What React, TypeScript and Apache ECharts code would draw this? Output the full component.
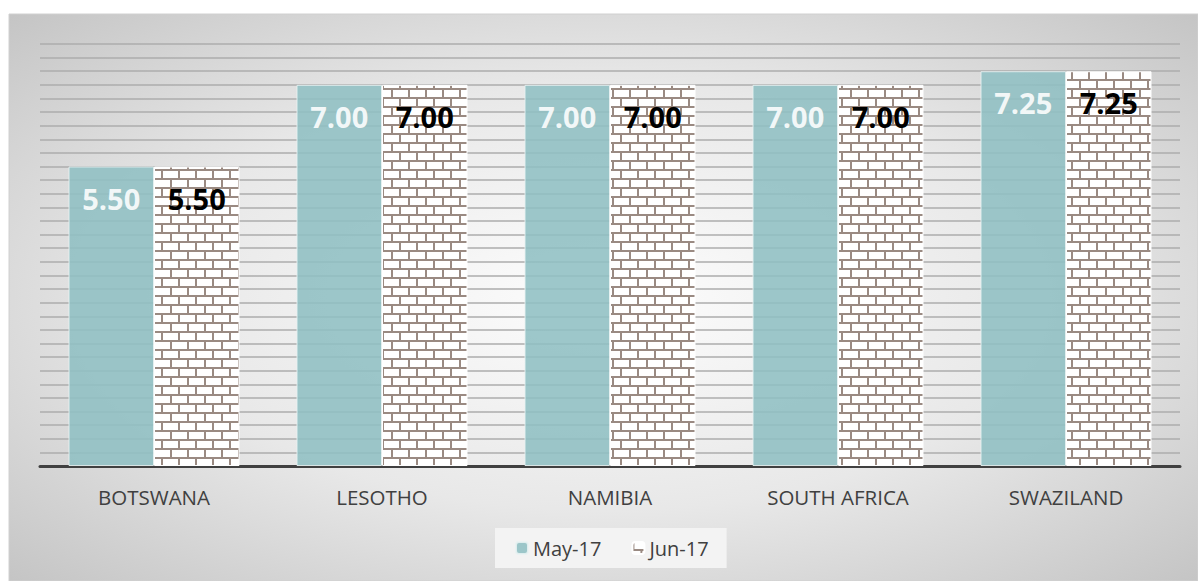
import React, { useEffect, useRef } from "react";
import * as echarts from "echarts";

const countries = ["BOTSWANA", "LESOTHO", "NAMIBIA", "SOUTH AFRICA", "SWAZILAND"];
const may17 = [5.5, 7.0, 7.0, 7.0, 7.25];
const jun17 = [5.5, 7.0, 7.0, 7.0, 7.25];
const seriesNames = ["May-17", "Jun-17"];

function makeBrick(): HTMLCanvasElement {
  const w = 17;
  const h = 18;
  const c = document.createElement("canvas");
  c.width = w;
  c.height = h;
  const ctx = c.getContext("2d")!;
  ctx.fillStyle = "#ffffff";
  ctx.fillRect(0, 0, w, h);
  ctx.fillStyle = "#9a8a82";
  // horizontal mortar
  ctx.fillRect(0, 7, w, 2);
  ctx.fillRect(0, 16, w, 2);
  // vertical joints, offset every other row
  ctx.fillRect(0, 0, 2, 7);
  ctx.fillRect(8, 9, 2, 7);
  return c;
}

export default function App() {
  const ref = useRef<HTMLDivElement>(null);

  useEffect(() => {
    if (!ref.current) return;
    const chart = echarts.init(ref.current, undefined, { renderer: "svg" });
    const brick = makeBrick();
    const font = "'Open Sans', 'Noto Sans', sans-serif";

    chart.setOption({
      animation: false,
      graphic: [
        {
          type: "rect",
          z: -10,
          silent: true,
          shape: { x: 9, y: 14, width: 1189, height: 567 },
          style: {
            fill: {
              type: "radial",
              x: 0.5,
              y: 0.5,
              r: 0.75,
              colorStops: [
                { offset: 0, color: "#fdfdfd" },
                { offset: 0.5, color: "#e8e8e8" },
                { offset: 1, color: "#c0c0c0" },
              ],
            },
            stroke: "#d0d0d0",
            lineWidth: 1,
          },
        },
      ],
      grid: { left: 40, right: 18, top: 44, bottom: 115 },
      legend: {
        left: 495,
        top: 528,
        padding: [10, 18, 10, 20],
        backgroundColor: "#f3f3f3",
        itemWidth: 12,
        itemHeight: 12,
        itemGap: 30,
        data: seriesNames,
        textStyle: { fontFamily: font, fontSize: 20, color: "#404040" },
      },
      xAxis: {
        type: "category",
        data: countries,
        axisLine: { lineStyle: { color: "#404040", width: 3 } },
        axisTick: { show: false },
        axisLabel: { margin: 20, fontFamily: font, fontSize: 20.5, color: "#404040" },
      },
      yAxis: {
        type: "value",
        min: 0,
        max: 7.75,
        interval: 0.25,
        axisLabel: { show: false },
        axisLine: { show: false },
        axisTick: { show: false },
        splitLine: { lineStyle: { color: "#adadad", width: 1.5 } },
      },
      series: [
        {
          name: seriesNames[0],
          type: "bar",
          data: may17,
          barGap: "0%",
          barCategoryGap: "25%",
          itemStyle: { color: "#8fbfc3", opacity: 0.88, borderColor: "#e8f2f3", borderWidth: 1 },
          label: {
            show: true,
            position: "insideTop",
            distance: 17,
            formatter: (p: any) => p.value.toFixed(2),
            fontFamily: font,
            fontSize: 29,
            fontWeight: "bold",
            color: "#ffffff",
          },
        },
        {
          name: seriesNames[1],
          type: "bar",
          data: jun17,
          itemStyle: {
            color: { image: brick, repeat: "repeat", imageWidth: 17, imageHeight: 18 },
            borderColor: "#ffffff",
            borderWidth: 1,
          },
          label: {
            show: true,
            position: "insideTop",
            distance: 17,
            formatter: (p: any) => p.value.toFixed(2),
            fontFamily: font,
            fontSize: 29,
            fontWeight: "bold",
            color: "#000000",
          },
        },
      ],
    });
    return () => chart.dispose();
  }, []);

  return (
    <div
      ref={ref}
      style={{ position: "absolute", left: 0, top: 0, width: 1198, height: 581, background: "#ffffff" }}
    />
  );
}
